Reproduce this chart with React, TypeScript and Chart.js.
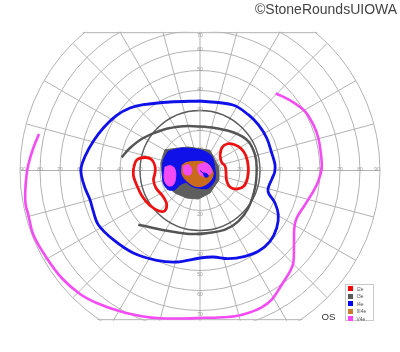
import React, { useEffect, useRef } from 'react';
import { Chart, registerables } from 'chart.js';

Chart.register(...registerables);

type P = [number, number];

// Grid definition (degrees of eccentricity / meridian angles)
const RINGS = [10, 20, 30, 40, 50, 60, 70, 80, 90];
const MERIDIANS = [0, 15, 30, 45, 60, 75, 90, 105, 120, 135, 150, 165, 180, 195, 210, 225, 240, 255, 270, 285, 300, 315, 330, 345];
const EMPHASIZED_RING = 30;
const TOP_LIMIT = 68.9;
const BOTTOM_LIMIT = -74.6;
const TOP_LABELS = [10, 20, 30, 40, 50, 60, 70];
const BOTTOM_LABELS = [10, 20, 30, 40, 50, 60, 70];

// Isopters, x/y in degrees (x: temporal(-)/nasal(+), y: superior(+)/inferior(-))
const V4E_PERIPHERAL: P[] = [
  [-80.5, 18.25], [-83.35, 11.25], [-85.85, 2.9], [-86.8, -3], [-87.4, -11], [-87.2, -17], [-85.85, -22.1],
  [-83.35, -32.1], [-76.65, -43.75], [-69.15, -53.75], [-60, -61.75], [-51.65, -66.25], [-40, -70.4],
  [-28.35, -73.0], [-20, -73.9], [-8.5, -74.0], [2.5, -73.6], [7.5, -73.6], [17.5, -72.9], [24, -71.25],
  [30.85, -68.4], [35.85, -64.6], [40.85, -57.1], [45, -50.4], [46.65, -46.25], [47, -37.1], [47.15, -28.75],
  [48.35, -23.75], [52.5, -17.1], [56.65, -10.4], [59.15, -5.4], [60.85, 1.25], [60.5, 7.9], [59.15, 16.25],
  [56.65, 22.9], [52.5, 29.6], [45.85, 34.6], [37.85, 38.6],
];

const I4E_PERIPHERAL: P[] = [
  [0, 34.75], [16.5, 32.75], [24.15, 27.9], [29.15, 22.9], [33.35, 16.25], [35.85, 8.75], [37.5, 2.9],
  [37.3, -1], [36.15, -3.75], [34, -10.25], [37.5, -16.25], [39.15, -22.1], [38.35, -28.75], [35, -35.4],
  [29.15, -40.4], [22.5, -42.9], [14.15, -44.1], [6.65, -43.25], [0, -43.75], [-11.65, -45.75],
  [-21.65, -44.9], [-33.35, -41.25], [-43.35, -34.6], [-50.85, -27.1], [-53.35, -20.4], [-55, -14.6],
  [-57.5, -8.75], [-59.25, -2.75], [-59.5, 1.25], [-57.5, 7.1], [-53.35, 14.6], [-48.35, 21.25],
  [-41.65, 27.6], [-35, 31.25], [-28.35, 32.9], [-15, 34.25],
];

const I3E_ARC: P[] = [
  [-39.15, 6.6], [-35, 11.25], [-28.35, 16.25], [-18.35, 20.4], [-8.35, 22.1], [0, 22], [7.5, 21.25],
  [17.5, 18.75], [24.15, 14.6], [27.5, 7.9], [28.35, 1.25], [27.5, -8.75], [24.15, -18.75], [19.15, -25.4],
  [12.5, -29.6], [4.15, -31.25], [-2.5, -31.75], [-6.65, -31.6], [-15, -30.4], [-23.35, -28.75], [-30.85, -27.1],
];

const I2E_TEMPORAL: P[] = [
  [-33.25, 1.25], [-31.65, 5.25], [-27.5, 6.5], [-24.25, 5.5], [-22.5, 2.25], [-22.5, -1.25], [-23.25, -4.75],
  [-22, -8.75], [-18.5, -13], [-16.65, -17], [-17.75, -20.25], [-20.5, -20.25], [-25, -17.5], [-29, -12.75],
  [-31.65, -7.25], [-33.25, -2.75],
];

const I2E_NASAL: P[] = [
  [10, 7.75], [11, 11.5], [13.5, 13.25], [17, 13], [20.5, 11], [23, 7.25], [24.15, 1.75], [23.75, -3.75],
  [22, -7.75], [18.5, -9.25], [15, -8.25], [13.25, -4.75], [13, -0.75], [12.5, 2.25], [10.75, 4.25],
];

const I3E_CENTRAL: P[] = [
  [-17.5, 10.4], [-5.85, 11.75], [5, 10.1], [9.15, 2.1], [9.5, -4.6], [5, -11.25], [-0.85, -14.25],
  [-6.65, -13.75], [-12.5, -11.25], [-18.35, -6.25], [-19.5, 3.75],
];

const I4E_CENTRAL: P[] = [
  [-15.85, 9.6], [-9.15, 11.25], [0.85, 10.1], [5.85, 7.1], [7.5, 0.4], [7.5, -4.6], [4.15, -8.75],
  [-0.85, -8.75], [-5.85, -5.9], [-10, -7.1], [-12.5, -9.6], [-15.85, -9.6], [-18.35, -6.25],
  [-18.85, 2.1], [-17.85, 6.25],
];

const III4E_CENTRAL: P[] = [
  [-9.5, 2.9], [-7, 4.5], [-2.5, 5.1], [2.5, 4.6], [6.65, 0.4], [6.65, -3.75], [2.5, -7.9],
  [-2.5, -8.4], [-6.65, -5.9], [-9.5, -2.1],
];

const V4E_SPOT_TEMPORAL: P[] = [
  [-17.5, 1.75], [-15, 2.4], [-12.85, 1.25], [-12.15, -2.9], [-13.35, -7.1], [-15.85, -7.6], [-17.85, -4.6],
];
const V4E_SPOT_CENTER: P[] = [
  [-8.35, 2.1], [-5.85, 2.9], [-4.15, 0.4], [-5, -2.1], [-7.85, -1.6],
];
const V4E_SPOT_NASAL: P[] = [
  [-0.85, 2.9], [2.5, 3.75], [5, 2.1], [5.5, -1.25], [2.5, -2.9], [0, -2.1], [-1.15, 0.4],
];
const I4E_SPOT: P[] = [
  [1.65, -1.25], [3.35, -1.6], [4.15, -2.9], [2.5, -3.25],
];
const I4E_SPOT_LINK: P[] = [
  [0, 0], [2.5, -2],
];

const LEGEND_LABELS = ['I2e', 'I3e', 'I4e', 'III4e', 'V4e'];
const LEGEND_COLORS = ['#ff0000', '#5a5a5a', '#0000ff', '#cc7a30', '#ff44ff'];

const RED = '#ee1111';
const GRAY = '#555555';
const GRAY_FILL = '#5e5e5e';
const BLUE = '#1010e8';
const ORANGE = '#c96a1c';
const MAGENTA = '#f44cf4';

const pts = (p: P[], close: boolean) => {
  const a = p.map(([x, y]) => ({ x, y }));
  if (close) a.push({ x: p[0][0], y: p[0][1] });
  return a;
};

const gridPlugin = {
  id: 'perimetryGrid',
  beforeDatasetsDraw(chart: any) {
    const { ctx, scales } = chart;
    const xs = scales.x;
    const ys = scales.y;
    const cx = xs.getPixelForValue(0);
    const cy = ys.getPixelForValue(0);
    const s = xs.getPixelForValue(1) - cx;
    const R = 90 * s;
    const yTop = ys.getPixelForValue(TOP_LIMIT);
    const yBot = ys.getPixelForValue(BOTTOM_LIMIT);
    ctx.save();
    ctx.beginPath();
    ctx.rect(0, yTop - 1, chart.width, yBot - yTop + 2);
    ctx.clip();
    ctx.beginPath();
    ctx.arc(cx, cy, R + 1, 0, Math.PI * 2);
    ctx.clip();

    ctx.strokeStyle = '#b2b2b2';
    ctx.lineWidth = 1;
    for (const r of RINGS) {
      ctx.beginPath();
      ctx.arc(cx, cy, r * s, 0, Math.PI * 2);
      ctx.stroke();
    }
    for (const a of MERIDIANS) {
      const rad = (a * Math.PI) / 180;
      ctx.beginPath();
      ctx.moveTo(cx, cy);
      ctx.lineTo(cx + Math.cos(rad) * R, cy - Math.sin(rad) * R);
      ctx.stroke();
    }
    ctx.beginPath();
    ctx.moveTo(0, yTop);
    ctx.lineTo(chart.width, yTop);
    ctx.moveTo(0, yBot);
    ctx.lineTo(chart.width, yBot);
    ctx.stroke();

    ctx.strokeStyle = '#5c5c5c';
    ctx.lineWidth = 1.3;
    ctx.beginPath();
    ctx.arc(cx, cy, EMPHASIZED_RING * s, 0, Math.PI * 2);
    ctx.stroke();

    ctx.fillStyle = '#9a9a9a';
    ctx.font = '5px "Liberation Sans", Arial, sans-serif';
    ctx.textAlign = 'center';
    ctx.textBaseline = 'middle';
    for (const r of RINGS) {
      const off = r === 90 ? 3 : 0;
      ctx.fillText(String(r), cx - r * s + off, cy - 1);
      ctx.fillText(String(r), cx + r * s - off, cy - 1);
    }
    for (const r of TOP_LABELS) {
      const yy = Math.max(cy - r * s - 1, yTop + 3);
      ctx.fillText(String(r), cx, yy);
    }
    for (const r of BOTTOM_LABELS) {
      const yy = Math.min(cy + r * s + 4, yBot - 3);
      ctx.fillText(String(r), cx, yy);
    }
  },
  afterDatasetsDraw(chart: any) {
    chart.ctx.restore();
  },
};

export default function App() {
  const ref = useRef<HTMLCanvasElement | null>(null);

  useEffect(() => {
    if (!ref.current) return;
    const filled = (data: P[], bg: string, border: string, order: number, tension: number, bw = 1) => ({
      data: pts(data, true),
      showLine: true,
      fill: 'shape',
      backgroundColor: bg,
      borderColor: border,
      borderWidth: bw,
      pointRadius: 0,
      tension,
      order,
    });
    const line = (data: P[], color: string, width: number, order: number, close: boolean) => ({
      data: pts(data, close),
      showLine: true,
      fill: false,
      borderColor: color,
      backgroundColor: color,
      borderWidth: width,
      pointRadius: 0,
      tension: 0.35,
      order,
    });
    const chart = new Chart(ref.current, {
      type: 'scatter',
      data: {
        datasets: [
          filled(I3E_CENTRAL, GRAY_FILL, GRAY_FILL, 20, 0),
          filled(I4E_CENTRAL, BLUE, BLUE, 19, 0.3),
          filled(III4E_CENTRAL, ORANGE, BLUE, 18, 0.35, 1.2),
          filled(V4E_SPOT_TEMPORAL, MAGENTA, MAGENTA, 17, 0.4),
          filled(V4E_SPOT_CENTER, MAGENTA, MAGENTA, 16, 0.4),
          filled(V4E_SPOT_NASAL, MAGENTA, MAGENTA, 15, 0.4),
          filled(I4E_SPOT, BLUE, BLUE, 14, 0.4),
          line(I4E_SPOT_LINK, BLUE, 1, 13, false),
          line(I3E_ARC, GRAY, 2.5, 8, false),
          line(I2E_TEMPORAL, RED, 2.8, 7, true),
          line(I2E_NASAL, RED, 2.8, 6, true),
          line(I4E_PERIPHERAL, BLUE, 2.8, 5, true),
          line(V4E_PERIPHERAL, MAGENTA, 2.6, 4, false),
        ] as any,
      },
      options: {
        animation: false,
        responsive: false,
        maintainAspectRatio: false,
        layout: { padding: 0 },
        scales: {
          x: { type: 'linear', min: -100, max: 100, display: false },
          y: { type: 'linear', min: -90.75, max: 85.25, display: false },
        },
        plugins: {
          legend: { display: false },
          tooltip: { enabled: false },
        },
      },
      plugins: [gridPlugin],
    });
    return () => chart.destroy();
  }, []);

  return (
    <div style={{ position: 'fixed', left: 0, top: 0, width: 400, height: 352, background: '#fff', fontFamily: '"Liberation Sans", Arial, sans-serif' }}>
      <canvas ref={ref} width={400} height={352} style={{ position: 'absolute', left: 0, top: 0, width: 400, height: 352 }} />
      <div style={{ position: 'absolute', left: 255, top: 2.3, fontSize: 14, lineHeight: '14px', color: '#444', whiteSpace: 'nowrap' }}>
        ©StoneRoundsUIOWA
      </div>
      <div style={{ position: 'absolute', left: 321.5, top: 312.3, fontSize: 9.7, lineHeight: '9.7px', color: '#333', whiteSpace: 'nowrap' }}>
        OS
      </div>
      <div style={{ position: 'absolute', left: 345, top: 283.5, width: 27, height: 35, border: '1px solid #c8c8c8', background: '#fff' }}>
        {LEGEND_LABELS.map((label, i) => (
          <div key={label} style={{ position: 'absolute', left: 2, top: 1 + i * 7.5, height: 6, display: 'flex', alignItems: 'center' }}>
            <span style={{ display: 'inline-block', width: 5, height: 5, background: LEGEND_COLORS[i] }} />
            <span style={{ marginLeft: 3.5, fontSize: 5, lineHeight: '6px', color: '#555', whiteSpace: 'nowrap' }}>{label}</span>
          </div>
        ))}
      </div>
    </div>
  );
}
